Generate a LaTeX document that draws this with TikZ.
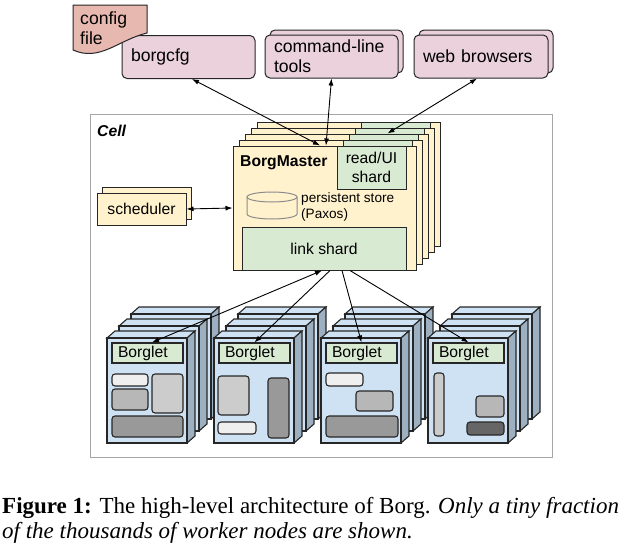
\documentclass[tikz,border=0pt]{standalone}
\usepackage{fontspec}
\setmainfont{Liberation Serif}
\setsansfont{Liberation Sans}
\usepackage{tikz}
\usetikzlibrary{arrows.meta,positioning,calc}

\definecolor{pinkfill}{HTML}{EAD1DC}
\definecolor{configfill}{HTML}{E6B8AF}
\definecolor{masterfill}{HTML}{FFF2CC}
\definecolor{shardfill}{HTML}{D9EAD3}
\definecolor{bletfill}{HTML}{CFE2F3}
\definecolor{bletside}{HTML}{9DB0C2}
\definecolor{cellline}{HTML}{A6A6A6}
\definecolor{tasklight}{HTML}{EFEFEF}
\definecolor{taskgray}{HTML}{CCCCCC}
\definecolor{taskmid}{HTML}{B7B7B7}
\definecolor{taskdark}{HTML}{999999}
\definecolor{taskdarker}{HTML}{666666}

\begin{document}
\begin{tikzpicture}[x=1pt,y=-1pt,>={Latex[length=7pt,width=5pt]},
  topfont/.style={font=\sffamily\fontsize{17.6}{20}\selectfont},
  midfont/.style={font=\sffamily\fontsize{15.7}{19}\selectfont},
  outline/.style={draw=black!85,line width=1pt},
  clientbox/.style={outline,fill=pinkfill,rounded corners=5pt,minimum height=43pt,text width=115pt,align=left,inner xsep=9pt,inner ysep=0pt,topfont},
  masterbox/.style={outline,fill=masterfill,minimum width=183pt,minimum height=124pt,inner sep=0pt},
  shardbox/.style={outline,fill=shardfill,inner sep=0pt,midfont},
  schedbox/.style={outline,fill=masterfill,minimum width=89pt,minimum height=32pt,inner sep=0pt,midfont},
  bletline/.style={draw=black!85,line width=1.1pt},
  bletlabel/.style={bletline,fill=shardfill,minimum height=20pt,text width=59pt,inner xsep=6pt,inner ysep=0pt,align=left,midfont},
  task/.style={bletline,rounded corners=3pt},
  link/.style={line width=0.9pt}]
\useasboundingbox (0,0) rectangle (627,554);

% cell frame
\draw[cellline,line width=1pt] (90,114) rectangle (552,457);
\node[anchor=west,inner sep=0pt,font=\sffamily\bfseries\itshape\fontsize{15.7}{19}\selectfont] (celllabel) at (97,131) {Cell};

% clients
\draw[clientbox] (270,30) rectangle (403,73);
\draw[clientbox] (419,30) rectangle (553,73);
\node[clientbox] (borgcfg) at (188.5,57) {borgcfg};
\node[clientbox] (cmdline) at (331.5,56.5) {command-line\\tools};
\node[clientbox,text width=116pt] (webbr) at (481,56.5) {web browsers};
\draw[outline,fill=configfill] (73,5) -- (147,5) -- (147,33) .. controls (118,40) and (100,62) .. (73,50) -- cycle;
\node[topfont,anchor=north west,align=left,inner sep=0pt] (cfgtext) at (80,12) {config\\file};

% borgmaster replicas
\foreach \i in {4,...,1} {
  \node[masterbox] (layer\i) at (324.5+6*\i,208-6*\i) {};
  \node[shardbox,minimum width=69pt,minimum height=43pt] (shard\i) at (371.5+6*\i,167.5-6*\i) {};
}
\node[masterbox] (master) at (324.5,208) {};
\node[anchor=west,inner sep=0pt,font=\sffamily\bfseries\fontsize{15.7}{19}\selectfont] (mastertitle) at (240,163) {BorgMaster};
\node[shardbox,minimum width=69pt,minimum height=43pt,align=center] (readui) at (371.5,167.5) {read/UI\\shard};
\node[shardbox,minimum width=164pt,minimum height=43pt] (link) at (324,248.5) {link shard};
\draw[draw=black!45,line width=1pt,fill=masterfill] (247,197) -- (247,214) arc[start angle=180,end angle=0,x radius=25,y radius=5] -- (297,197);
\draw[draw=black!45,line width=1pt,fill=masterfill] (272,197) ellipse[x radius=25,y radius=5];
\node[anchor=west,inner sep=0pt,align=left,font=\sffamily\fontsize{13.6}{16}\selectfont] (storetext) at (301,207) {persistent store\\(Paxos)};

% scheduler
\node[schedbox] (schedback) at (146.5,203) {};
\node[schedbox] (sched) at (141.5,209) {scheduler};

% borglets
\foreach \j in {2,1,0}
  \foreach \k in {0,...,3} {
    \begin{scope}[shift={(107+107*\k+12*\j,338-12*\j)}]
      \draw[bletline,fill=bletfill] (0,0) -- (8,-7) -- (88,-7) -- (80,0) -- cycle;
      \draw[bletline,fill=bletside] (80,0) -- (88,-7) -- (88,98) -- (80,105) -- cycle;
      \draw[bletline,fill=bletfill] (0,0) rectangle (80,105);
    \end{scope}
  }
\foreach \k in {0,...,3}
  \node[bletlabel] (bl\k) at (147.5+107*\k,353) {Borglet};

% tasks
\draw[task,fill=tasklight] (112,374) rectangle (148,386);
\draw[task,fill=taskmid] (112,389) rectangle (148,410);
\draw[task,fill=taskgray] (152,374) rectangle (183,413);
\draw[task,fill=taskdark] (112,416) rectangle (183,437);
\draw[task,fill=taskgray] (218,376) rectangle (249,415);
\draw[task,fill=tasklight] (218,422) rectangle (256,434);
\draw[task,fill=taskdark] (268,378) rectangle (289,438);
\draw[task,fill=tasklight] (326,373) rectangle (363,386);
\draw[task,fill=taskmid] (356,391) rectangle (393,411);
\draw[task,fill=taskdark] (326,416) rectangle (398,437);
\draw[task,fill=taskgray] (434,373) rectangle (444,436);
\draw[task,fill=taskmid] (476,396) rectangle (504,417);
\draw[task,fill=taskdarker] (467,422) rectangle (504,435);

% connections
\draw[link,<->] ([xshift=3.5pt]borgcfg.south) -- ([xshift=-4.5pt]master.north);
\draw[link,<->] (cmdline.south) -- ([xshift=1.5pt]master.north);
\draw[link,<->] ([xshift=-4pt]webbr.south) -- ([xshift=4pt]shard2.north);
\draw[link,<->] (sched.east) -- (master.west);
\draw[link,<->] ([xshift=-2pt]link.south) -- ([xshift=4.5pt]bl0.north);
\foreach \k/\dx in {1/6,2/18,3/26}
  \draw[link,->] ([xshift=\dx pt]link.south) -- (bl\k.north);

% caption
\node[anchor=base west,inner sep=0pt,font=\fontsize{23}{25}\selectfont] (cap1) at (2,513) {\textbf{Figure 1:} The high-level architecture of Borg. \textit{Only a tiny fraction}};
\node[anchor=base west,inner sep=0pt,font=\fontsize{23}{25}\selectfont] (cap2) at (2,538) {\textit{of the thousands of worker nodes are shown.}};
\end{tikzpicture}
\end{document}
